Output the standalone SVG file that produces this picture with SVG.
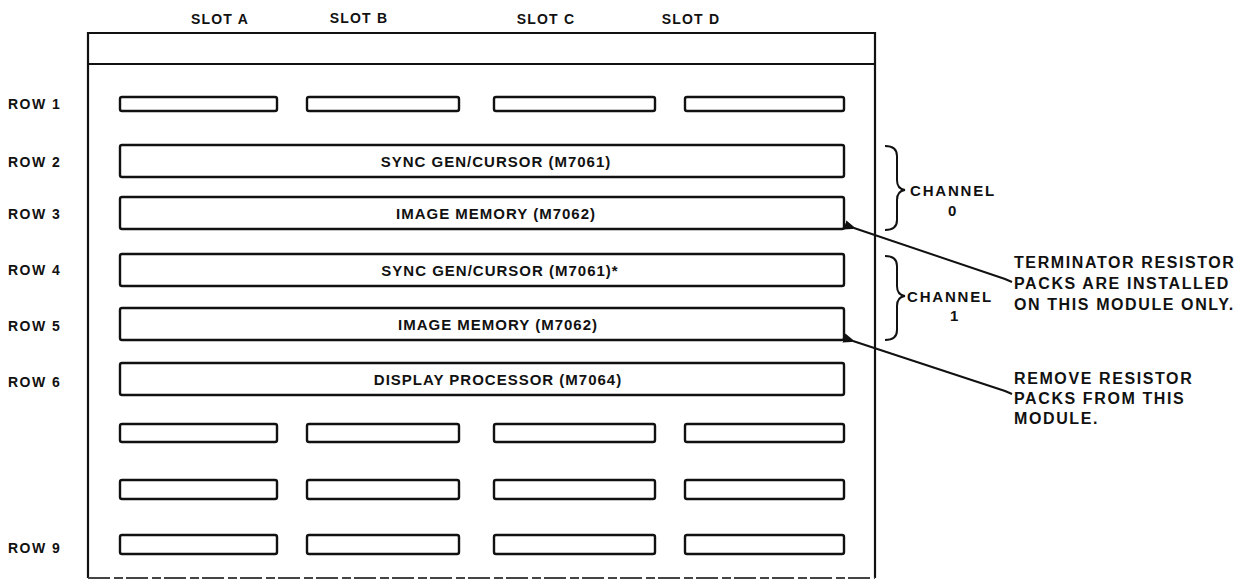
<svg xmlns="http://www.w3.org/2000/svg" width="1246" height="581" viewBox="0 0 1246 581">
<style>
text{font-family:"Liberation Sans",Arial,sans-serif;font-weight:bold;fill:#111}
.lbl{font-size:14px;letter-spacing:1.2px}
.row{font-size:14px;letter-spacing:1.5px}
.mod{font-size:15px;letter-spacing:1px;text-anchor:middle}
.ch{font-size:15px;letter-spacing:1.8px}
.note{font-size:16px;letter-spacing:1.6px}
.box{fill:none;stroke:#111;stroke-width:2.2}
.slot{fill:#fff;stroke:#111;stroke-width:2.4}
.ln{fill:none;stroke:#111;stroke-width:2}
.btm{fill:none;stroke:#444;stroke-width:2;stroke-dasharray:22 4 9 3}
</style>
<defs>
<marker id="dot" viewBox="0 0 10 10" refX="2" refY="5" markerWidth="6" markerHeight="6" orient="auto-start-reverse">
<path d="M0,5 L10,1 L10,9 Z" fill="#111"/>
</marker>
</defs>
<rect width="1246" height="581" fill="#fff"/>

<g id="header">
<text class="lbl" x="220" y="24" text-anchor="middle">SLOT A</text>
<text class="lbl" x="359" y="23" text-anchor="middle">SLOT B</text>
<text class="lbl" x="546" y="24" text-anchor="middle">SLOT C</text>
<text class="lbl" x="691" y="24" text-anchor="middle">SLOT D</text>
</g>

<g id="chassis">
<path class="box" d="M88,578 L88,33 L875,33 L875,578"/>
<line class="btm" x1="88" y1="578" x2="875" y2="578"/>
<line class="ln" x1="88" y1="64" x2="875" y2="64"/>
</g>

<g id="row-labels">
<text class="row" x="8" y="109">ROW 1</text>
<text class="row" x="8" y="167">ROW 2</text>
<text class="row" x="8" y="219">ROW 3</text>
<text class="row" x="8" y="275">ROW 4</text>
<text class="row" x="8" y="331">ROW 5</text>
<text class="row" x="8" y="387">ROW 6</text>
<text class="row" x="8" y="553">ROW 9</text>
</g>

<g id="row1">
<rect class="slot" x="120" y="97" width="157" height="14" rx="2"/>
<rect class="slot" x="307" y="97" width="152" height="14" rx="2"/>
<rect class="slot" x="494" y="97" width="161" height="14" rx="2"/>
<rect class="slot" x="685" y="97" width="159" height="14" rx="2"/>
</g>

<g id="row2">
<rect class="slot" x="120" y="145" width="724" height="32" rx="2"/>
<text class="mod" x="496" y="167">SYNC GEN/CURSOR (M7061)</text>
</g>
<g id="row3">
<rect class="slot" x="120" y="197" width="724" height="32" rx="2"/>
<text class="mod" x="496" y="219">IMAGE MEMORY (M7062)</text>
</g>
<g id="row4">
<rect class="slot" x="120" y="254" width="724" height="32" rx="2"/>
<text class="mod" x="500" y="276">SYNC GEN/CURSOR (M7061)*</text>
</g>
<g id="row5">
<rect class="slot" x="120" y="308" width="724" height="32" rx="2"/>
<text class="mod" x="498" y="330">IMAGE MEMORY (M7062)</text>
</g>
<g id="row6">
<rect class="slot" x="120" y="363" width="724" height="32" rx="2"/>
<text class="mod" x="498" y="385">DISPLAY PROCESSOR (M7064)</text>
</g>

<g id="row7">
<rect class="slot" x="120" y="424" width="157" height="18" rx="2"/>
<rect class="slot" x="307" y="424" width="152" height="18" rx="2"/>
<rect class="slot" x="494" y="424" width="161" height="18" rx="2"/>
<rect class="slot" x="685" y="424" width="159" height="18" rx="2"/>
</g>
<g id="row8">
<rect class="slot" x="120" y="480" width="157" height="19" rx="2"/>
<rect class="slot" x="307" y="480" width="152" height="19" rx="2"/>
<rect class="slot" x="494" y="480" width="161" height="19" rx="2"/>
<rect class="slot" x="685" y="480" width="159" height="19" rx="2"/>
</g>
<g id="row9">
<rect class="slot" x="120" y="535" width="157" height="19" rx="2"/>
<rect class="slot" x="307" y="535" width="152" height="19" rx="2"/>
<rect class="slot" x="494" y="535" width="161" height="19" rx="2"/>
<rect class="slot" x="685" y="535" width="159" height="19" rx="2"/>
</g>

<g id="channel0">
<path class="ln" d="M885,146 Q897,146 897,156 L897,180 Q897,189 905,190 Q897,191 897,200 L897,220 Q897,230 885,230"/>
<text class="ch" x="910" y="196">CHANNEL</text>
<text class="ch" x="953" y="216" text-anchor="middle">0</text>
</g>
<g id="channel1">
<path class="ln" d="M885,256 Q897,256 897,266 L897,286 Q897,295 905,296 Q897,297 897,306 L897,330 Q897,340 885,340"/>
<text class="ch" x="907" y="302">CHANNEL</text>
<text class="ch" x="955" y="321" text-anchor="middle">1</text>
</g>

<g id="connectors">
<path class="ln" d="M1012,282 L1005,279 L854,228" marker-end="url(#dot)"/>
<path class="ln" d="M1012,394 L1005,391 L853,341" marker-end="url(#dot)"/>
</g>

<g id="note1">
<text class="note" x="1014" y="268">TERMINATOR RESISTOR</text>
<text class="note" x="1014" y="289">PACKS ARE INSTALLED</text>
<text class="note" x="1014" y="310">ON THIS MODULE ONLY.</text>
</g>
<g id="note2">
<text class="note" x="1014" y="384">REMOVE RESISTOR</text>
<text class="note" x="1014" y="404">PACKS FROM THIS</text>
<text class="note" x="1014" y="424">MODULE.</text>
</g>
</svg>
